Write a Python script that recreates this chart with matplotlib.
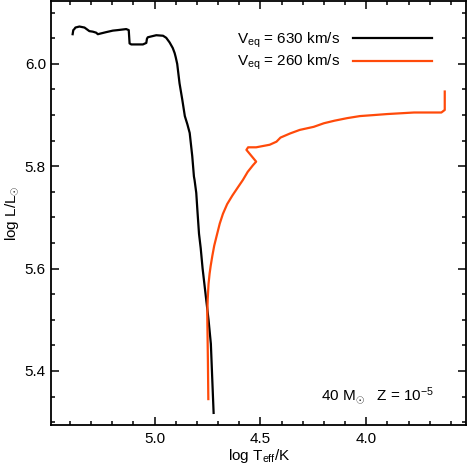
import matplotlib
matplotlib.use("Agg")
import matplotlib.pyplot as plt
from matplotlib.ticker import MultipleLocator

# track for v_eq = 630 km/s (log Teff, log L)
fast_logT = [4.721, 4.727, 4.734, 4.745, 4.759, 4.773, 4.782, 4.790, 4.797,
             4.803, 4.811, 4.814, 4.822, 4.834, 4.845, 4.857, 4.869, 4.882,
             4.893, 4.900, 4.905, 4.914, 4.929, 4.945, 4.960, 4.992, 5.032,
             5.036, 5.039, 5.055, 5.110, 5.118, 5.122, 5.134, 5.174, 5.197,
             5.229, 5.268, 5.276, 5.292, 5.308, 5.331, 5.355, 5.374, 5.379,
             5.384, 5.387]
fast_logL = [5.318, 5.380, 5.453, 5.500, 5.550, 5.600, 5.640, 5.668, 5.710,
             5.748, 5.773, 5.780, 5.820, 5.865, 5.882, 5.898, 5.930, 5.962,
             6.000, 6.013, 6.021, 6.031, 6.042, 6.051, 6.055, 6.056, 6.052,
             6.049, 6.041, 6.038, 6.038, 6.040, 6.066, 6.068, 6.066, 6.065,
             6.062, 6.058, 6.061, 6.063, 6.064, 6.071, 6.073, 6.071, 6.068,
             6.066, 6.058]

# track for v_eq = 260 km/s
slow_logT = [4.746, 4.748, 4.750, 4.751, 4.749, 4.745, 4.740, 4.735, 4.727,
             4.718, 4.706, 4.692, 4.677, 4.657, 4.632, 4.606, 4.583, 4.560,
             4.535, 4.520, 4.566, 4.558, 4.520, 4.456, 4.424, 4.405, 4.360,
             4.314, 4.248, 4.200, 4.150, 4.090, 4.030, 3.964, 3.900, 3.774,
             3.645, 3.629, 3.629]
slow_logL = [5.345, 5.420, 5.480, 5.510, 5.540, 5.570, 5.590, 5.605, 5.625,
             5.645, 5.665, 5.688, 5.707, 5.726, 5.743, 5.759, 5.773, 5.789,
             5.802, 5.809, 5.832, 5.837, 5.837, 5.842, 5.848, 5.856, 5.864,
             5.871, 5.877, 5.884, 5.889, 5.894, 5.898, 5.900, 5.902, 5.905,
             5.905, 5.910, 5.946]

plt.rcParams['font.family'] = ['Liberation Sans', 'DejaVu Sans']
plt.rcParams['mathtext.fontset'] = 'custom'
plt.rcParams['mathtext.rm'] = 'Liberation Sans'
plt.rcParams['mathtext.it'] = 'Liberation Sans'
plt.rcParams['mathtext.bf'] = 'Liberation Sans'

fig = plt.figure(figsize=(4.68, 4.68), dpi=100)
ax = fig.add_axes([0.110, 0.092, 0.886, 0.906])

ax.plot(fast_logT, fast_logL, color='black', lw=1.6, label=r'V$_{\rm eq}$ = 630 km/s')
ax.plot(slow_logT, slow_logL, color='#FF4A0A', lw=1.6, label=r'V$_{\rm eq}$ = 260 km/s')

ax.set_xlim(5.487, 3.528)
ax.set_ylim(5.2945, 6.123)

ax.xaxis.set_major_locator(MultipleLocator(0.5))
ax.xaxis.set_minor_locator(MultipleLocator(0.1))
ax.yaxis.set_major_locator(MultipleLocator(0.2))
ax.yaxis.set_minor_locator(MultipleLocator(0.05))
ax.tick_params(which='both', direction='in', top=True, right=True, labelsize=11, width=1.1)
ax.tick_params(which='major', length=6)
ax.tick_params(which='minor', length=3)
ax.tick_params(axis='x', pad=5)
ax.tick_params(axis='y', pad=4)
for s in ax.spines.values():
    s.set_linewidth(1.3)

ax.set_xlabel(r'log T$_{\rm eff}$/K', fontsize=11, labelpad=1)
ax.set_ylabel(r'log L/L$_{\odot}$', fontsize=11, labelpad=3)

ax.legend(loc='upper right', bbox_to_anchor=(0.918, 0.93), frameon=False,
          markerfirst=False, handlelength=5.2, handletextpad=0.8,
          labelspacing=0.2, borderpad=0, borderaxespad=0, fontsize=11)

ax.text(0.923, 0.06, r'40 M$_{\odot}$   Z = 10$^{-5}$', transform=ax.transAxes,
        ha='right', va='baseline', fontsize=11)

fig.savefig('out.png', dpi=100)
